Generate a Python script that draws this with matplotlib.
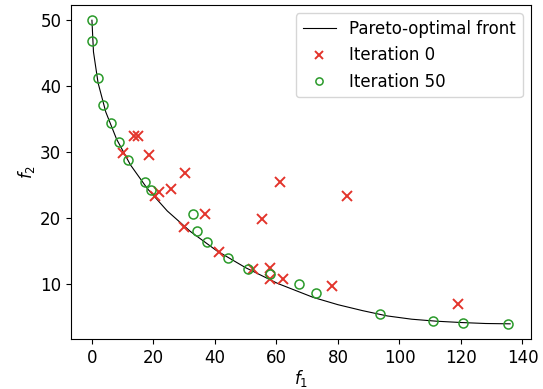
#!/usr/bin/env python3
"""Pareto front vs. population at iteration 0 and 50."""
import matplotlib
matplotlib.use("Agg")
import matplotlib.pyplot as plt

matplotlib.rcParams["font.size"] = 12

# Pareto-optimal front
front_f1 = [0, 0.5, 2, 4.5, 8, 12.5, 18, 24.5, 32, 40.5, 50, 60.5, 72,
            80, 88, 96, 104, 112, 120, 128, 136]
front_f2 = [50, 45.2, 40.5, 36.1, 32, 28.1, 24.5, 21.1, 18, 15.1, 12.5, 10.1,
            8.0, 6.9, 6.0, 5.2, 4.7, 4.4, 4.2, 4.05, 4.0]

# initial population
it0_f1 = [13.6, 14.9, 10.0, 18.6, 30.4, 61.3, 25.8, 21.7, 20.6, 36.9,
          55.4, 30.1, 41.4, 52.4, 57.9, 57.9, 62.1, 83.1, 78.0, 119.1]
it0_f2 = [32.5, 32.5, 29.85, 29.6, 26.8, 25.5, 24.4, 24.0, 23.3, 20.65,
          19.9, 18.7, 14.9, 12.3, 12.4, 10.85, 10.85, 23.4, 9.7, 7.0]

# population after 50 iterations
it50_f1 = [0, 0.1, 2.1, 3.7, 6.2, 8.7, 11.6, 17.4, 19.2, 33.0, 34.2, 37.4,
           44.2, 50.8, 57.9, 67.4, 73.0, 93.7, 110.9, 120.8, 135.3]
it50_f2 = [50, 46.9, 41.3, 37.1, 34.5, 31.5, 28.8, 25.5, 24.3, 20.65, 18.0,
           16.4, 14.0, 12.3, 11.6, 10.0, 8.6, 5.5, 4.5, 4.2, 4.0]

RED = "#e3342b"
GREEN = "#2a9a2a"

fig = plt.figure(figsize=(5.43, 3.89), dpi=100)
ax = fig.add_axes([0.1308, 0.1285, 0.978 - 0.1308, 0.987 - 0.1285])

ax.plot(front_f1, front_f2, color="black", lw=0.8, label="Pareto-optimal front")
ax.plot(it0_f1, it0_f2, ls="none", marker="x", ms=6.5, mew=1.4, color=RED,
        label="Iteration 0")
ax.plot(it50_f1, it50_f2, ls="none", marker="o", ms=6.5, mew=1.1,
        mfc="none", mec=GREEN, label="Iteration 50")

ax.set_xlabel("$f_1$", labelpad=1)
ax.set_ylabel("$f_2$", labelpad=2)
ax.set_xticks(range(0, 141, 20))
ax.set_yticks(range(10, 51, 10))
ax.legend(loc="upper right", markerscale=0.8)

fig.savefig("out.png", dpi=100)
